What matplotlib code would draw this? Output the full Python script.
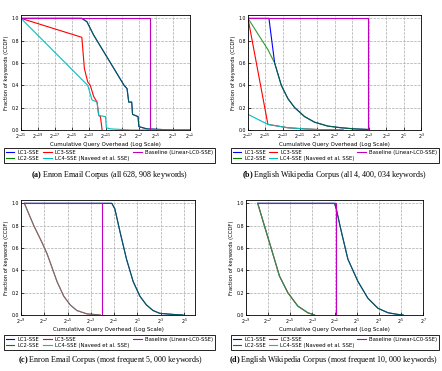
import numpy as np
import matplotlib
matplotlib.use("Agg")
import matplotlib.pyplot as plt

plt.rcParams["mathtext.fontset"] = "custom"
plt.rcParams["mathtext.rm"] = "DejaVu Sans"
plt.rcParams["mathtext.bf"] = "Liberation Serif:bold"

# data: x values are log2 of cumulative query overhead
# (a) Enron, all keywords
a_base_x = [-21, -5.72, -5.72]
a_base_y = [1.0, 1.0, 0.0]
a_lc12_x = [-21, -13.8, -13.2, -12.4, -11.6, -10.8, -10.0, -9.6, -9.2, -8.8, -8.45, -8.25, -7.9, -7.8,
            -7.15, -7.05, -6.1, -3.0, -1.0]
a_lc12_y = [1.0, 1.0, 0.97, 0.85, 0.75, 0.65, 0.55, 0.5, 0.45, 0.4, 0.37, 0.25, 0.25, 0.14,
            0.12, 0.03, 0.01, 0.0, 0.0]
a_lc3_x = [-21, -13.8, -13.5, -13.1, -12.8, -12.4, -12.0, -11.8, -11.6, -11.4]
a_lc3_y = [1.0, 0.83, 0.55, 0.43, 0.4, 0.3, 0.25, 0.13, 0.12, 0.0]
a_lc4_x = [-21, -13.1, -12.6, -12.0, -11.8, -11.0, -10.9, -10.4, -8.0, -1.0]
a_lc4_y = [1.0, 0.4, 0.27, 0.25, 0.13, 0.12, 0.02, 0.01, 0.0, 0.0]

# (b) Wikipedia, all keywords
b_base_x = [-17, -3.15, -3.15]
b_base_y = [1.0, 1.0, 0.0]
b_lc1_x = [-17, -14.58, -13.92, -13.15, -12.38, -11.6, -10.46, -9.31, -7.77, -6.23, -4.69, -3.15]
b_lc1_y = [1.0, 1.0, 0.6, 0.4, 0.28, 0.2, 0.12, 0.07, 0.035, 0.02, 0.01, 0.005]
b_lc2_x = [-17, -14.7, -13.92, -13.15, -12.38, -11.6, -10.46, -9.31, -7.77, -6.23, -4.69, -3.15]
b_lc2_y = [1.0, 0.72, 0.6, 0.4, 0.28, 0.2, 0.12, 0.07, 0.035, 0.02, 0.01, 0.005]
b_lc3_x = [-17, -14.7, -12.38, -10.46, -8.5, -6.0]
b_lc3_y = [1.0, 0.05, 0.02, 0.01, 0.003, 0.0]
b_lc4_x = [-17, -14.7, -12.38, -10.46, -8.5, -6.0]
b_lc4_y = [0.14, 0.05, 0.02, 0.01, 0.003, 0.0]

# (c) Enron, top 5,000 keywords
c_base_x = [-8.71, -2.06, -2.06]
c_base_y = [1.0, 1.0, 0.0]
c_left_x = [-8.71, -7.9, -7.2, -6.77, -6.49, -5.91, -5.34, -4.77, -4.2, -3.34, -2.2]
c_left_y = [1.0, 0.8, 0.65, 0.55, 0.47, 0.3, 0.17, 0.09, 0.04, 0.01, 0.0]
c_right_x = [-8.71, -1.2, -0.94, -0.51, 0.06, 0.63, 1.2, 1.77, 2.34, 2.91, 4.06, 4.91]
c_right_y = [1.0, 1.0, 0.95, 0.75, 0.5, 0.3, 0.17, 0.09, 0.04, 0.015, 0.005, 0.0]

# (d) Wikipedia, top 10,000 keywords
d_base_x = [-7.94, -0.84, -0.84]
d_base_y = [1.0, 1.0, 0.0]
d_left_x = [-7.94, -7.34, -6.73, -5.98, -5.22, -4.32, -3.41, -2.81]
d_left_y = [1.0, 0.8, 0.6, 0.35, 0.2, 0.08, 0.02, 0.0]
d_right_x = [-7.94, -0.99, -0.84, -0.39, 0.21, 1.12, 2.02, 2.93, 3.84, 4.74, 5.2]
d_right_y = [1.0, 1.0, 0.95, 0.75, 0.5, 0.3, 0.15, 0.06, 0.02, 0.005, 0.0]

ticks_a = list(range(-21, 0, 2))
ticks_b = list(range(-17, 4, 2))
ticks_c = list(range(-9, 6, 2))
ticks_d = list(range(-9, 8, 2))

captions = [
    ("(a)", "Enron Email Corpus (all 628, 908 keywords)"),
    ("(b)", "English Wikipedia Corpus (all 4, 400, 034 keywords)"),
    ("(c)", "Enron Email Corpus (most frequent 5, 000 keywords)"),
    ("(d)", "English Wikipedia Corpus (most frequent 10, 000 keywords)"),
]

W, H = 442, 371
fig = plt.figure(figsize=(W / 100, H / 100), dpi=100)


def px_axes(l, t, r, b):
    return fig.add_axes([l / W, 1 - b / H, (r - l) / W, (b - t) / H])


def p2(u):
    return np.power(2.0, np.asarray(u, dtype=float))


def style(ax, ticks, xmax):
    ax.set_xscale("log", base=2)
    ax.set_xlim(p2(ticks[0]), p2(xmax))
    ax.set_ylim(0, 1.03)
    ax.set_xticks(p2(ticks))
    ax.set_xticklabels(["$2^{%d}$" % t for t in ticks])
    ax.minorticks_off()
    ax.set_yticks([0, 0.2, 0.4, 0.6, 0.8, 1.0])
    ax.set_yticklabels(["0.0", "0.2", "0.4", "0.6", "0.8", "1.0"])
    ax.tick_params(labelsize=3.4, direction="in", length=2, width=0.5, pad=1.2)
    ax.grid(True, linestyle="--", color="#aaaaaa", linewidth=0.5)
    for s in ax.spines.values():
        s.set_linewidth(0.6)
    ax.set_xlabel("Cumulative Query Overhead (Log Scale)", fontsize=4.0, labelpad=1)
    ax.set_ylabel("Fraction of keywords (CCDF)", fontsize=3.8, labelpad=2)


def legend(l, t, r, b):
    h = [plt.Line2D([], [], color=c, lw=0.8) for c in ["b", "g", "r", "c", "m"]]
    lab = ["LC1-SSE", "LC2-SSE", "LC3-SSE", "LC4-SSE (Naveed et al. SSE)",
           "Baseline (Linear-LC0-SSE)"]
    leg = fig.legend(h, lab, ncol=3, fontsize=3.8, loc="lower left",
                     bbox_to_anchor=(l / W, 1 - b / H, (r - l) / W, (b - t) / H),
                     mode="expand", borderaxespad=0, handlelength=1.6, handletextpad=0.6,
                     columnspacing=1.0, labelspacing=0.25, borderpad=0.35,
                     fancybox=False, framealpha=1)
    leg.get_frame().set_edgecolor("black")
    leg.get_frame().set_linewidth(0.6)


lw = 0.8

# (a)
ax = px_axes(21, 15, 190, 130)
ax.plot(p2(a_lc12_x), a_lc12_y, color="b", lw=lw)
ax.plot(p2(a_lc12_x), a_lc12_y, color="g", lw=lw, alpha=0.7)
ax.plot(p2(a_lc3_x), a_lc3_y, color="r", lw=lw)
ax.plot(p2(a_lc4_x), a_lc4_y, color="c", lw=lw)
ax.plot(p2(a_base_x), a_base_y, color="m", lw=lw)
style(ax, ticks_a, -1)

# (b)
ax = px_axes(248, 15, 421, 130)
ax.plot(p2(b_lc1_x), b_lc1_y, color="b", lw=lw)
ax.plot(p2(b_lc2_x), b_lc2_y, color="g", lw=lw, alpha=0.8)
ax.plot(p2(b_lc3_x), b_lc3_y, color="r", lw=lw)
ax.plot(p2(b_lc4_x), b_lc4_y, color="c", lw=lw)
ax.plot(p2(b_base_x), b_base_y, color="m", lw=lw)
style(ax, ticks_b, 3)

# (c)
ax = px_axes(21, 200, 195, 315)
ax.plot(p2(c_right_x), c_right_y, color="b", lw=lw)
ax.plot(p2(c_right_x), c_right_y, color="g", lw=lw, alpha=0.7)
ax.plot(p2(c_left_x), c_left_y, color="r", lw=lw)
ax.plot(p2(c_left_x), c_left_y, color="c", lw=lw, alpha=0.6)
ax.plot(p2(c_base_x), c_base_y, color="m", lw=lw)
style(ax, ticks_c, 5.94)

# (d)
ax = px_axes(246, 200, 423, 315)
ax.plot(p2(d_right_x), d_right_y, color="b", lw=lw)
ax.plot(p2(d_right_x), d_right_y, color="g", lw=lw, alpha=0.7)
ax.plot(p2(d_left_x), d_left_y, color="r", lw=lw)
ax.plot(p2(d_left_x), d_left_y, color="g", lw=lw, alpha=0.7)
ax.plot(p2(d_left_x), d_left_y, color="c", lw=lw, alpha=0.5)
ax.plot(p2(d_base_x), d_base_y, color="m", lw=lw)
style(ax, ticks_d, 7)

legend(4, 148, 215, 163)
legend(231, 148, 439, 163)
legend(4, 333, 215, 350)
legend(231, 333, 439, 350)

for (tag, text), (cx, cy) in zip(captions, [(110, 175), (334, 175), (110, 360), (333, 360)]):
    fig.text(cx / W, 1 - cy / H, "$\\mathbf{%s}$ %s" % (tag, text),
             family="Liberation Serif", fontsize=5.8, ha="center", va="center")

fig.savefig("out.png", dpi=100)
